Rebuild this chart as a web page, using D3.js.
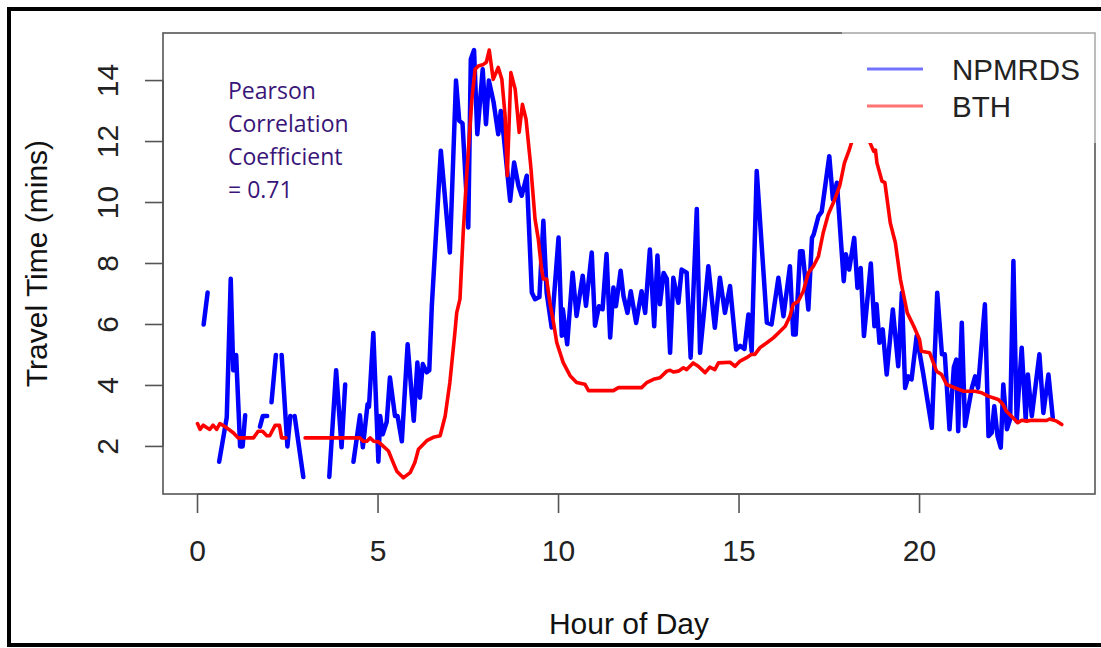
<!DOCTYPE html>
<html>
<head>
<meta charset="utf-8">
<script src="https://cdn.jsdelivr.net/npm/d3@7"></script>
<style>
  body { margin: 0; background: #fff; }
  svg { display: block; }
  .tick-label, .axis-title, .legend-label { font-family: "Liberation Sans", Arial, sans-serif; }
</style>
</head>
<body>
<svg id="chart" width="1101" height="648"></svg>
<script>
// NPMRDS travel time (mins), null = missing interval
var npmHour = [0.17,0.28,0.45,0.60,0.81,0.92,0.99,1.07,1.18,1.25,1.32,1.5,1.73,1.81,1.93,2.0,2.05,2.17,2.25,2.33,2.49,2.57,2.62,2.69,2.93,3.3,
  3.65,3.84,3.99,4.09,4.2,4.32,4.50,4.58,4.71,4.75,4.87,5.01,5.06,5.13,5.24,5.33,5.47,5.54,5.66,5.82,5.99,6.09,6.16,6.24,6.35,6.42,
  6.49,6.74,6.99,7.16,7.25,7.34,7.50,7.57,7.66,7.75,7.90,7.99,8.07,8.2,8.33,8.40,8.48,8.66,8.77,8.89,8.98,9.12,9.26,9.35,9.47,9.58,
  9.67,9.81,10.0,10.09,10.12,10.24,10.39,10.50,10.67,10.76,10.92,11.01,11.12,11.22,11.33,11.43,11.52,11.59,11.72,11.80,11.91,12.0,
  12.15,12.30,12.40,12.53,12.65,12.74,12.81,12.91,13.0,13.09,13.18,13.32,13.41,13.55,13.66,13.83,13.92,14.01,14.15,14.33,14.47,14.61,
  14.75,14.92,15.03,15.15,15.26,15.35,15.49,15.77,15.90,16.09,16.23,16.41,16.50,16.57,16.69,16.76,16.92,17.02,17.07,17.20,17.29,17.50,
  17.60,17.71,17.90,17.96,18.05,18.19,18.28,18.37,18.46,18.65,18.75,18.81,18.89,18.98,19.09,19.26,19.41,19.51,19.60,19.69,19.78,19.92,
  20.1,20.34,20.49,20.62,20.70,20.83,20.95,21.02,21.07,21.17,21.26,21.45,21.54,21.62,21.81,21.91,22.0,22.07,22.16,22.25,22.32,22.42,
  22.51,22.60,22.69,22.83,22.94,23.0,23.11,23.32,23.43,23.57,23.69];
var npmTime = [6.0,7.05,null,1.5,2.95,7.5,4.5,5.0,2.0,2.0,3.02,null,2.65,3.0,3.0,null,3.45,5.0,null,5.0,2.0,3.0,null,3.0,1.0,null,
  1.0,4.5,1.97,4.03,null,1.5,3.02,1.97,3.38,3.3,5.72,1.5,3.0,2.4,2.8,4.26,3.0,3.0,2.17,5.35,2.84,4.75,3.6,4.7,4.43,4.5,
  6.6,11.7,8.36,14.0,12.68,12.6,9.18,14.7,15.0,12.24,14.37,12.57,14.0,13.3,12.24,13.0,12.2,10.06,11.31,10.55,10.22,10.88,7.05,6.83,6.9,9.4,
  7.05,5.9,8.85,5.63,6.5,5.35,7.7,6.28,7.6,6.61,8.36,5.96,6.6,6.5,8.31,5.57,7.21,6.6,7.76,6.93,6.38,7.09,
  6.05,7.09,6.38,8.46,5.94,8.26,6.66,7.69,7.5,5.07,7.53,6.71,7.8,7.7,4.91,9.79,5.07,6.16,7.91,5.89,7.53,6.38,
  7.26,5.18,5.3,5.2,6.33,5.12,11.03,6.06,6.0,7.53,6.27,7.91,5.67,5.67,8.4,8.4,6.49,8.84,8.96,9.55,9.7,11.52,
  10.1,10.65,7.42,8.3,7.8,8.84,7.2,7.85,5.62,8.0,5.94,6.66,5.4,5.84,4.36,6.49,4.63,7.04,3.92,4.3,4.2,5.62,
  4.4,2.61,7.04,5.02,5.02,2.56,4.6,4.85,2.5,6.06,2.67,3.92,4.3,3.92,6.66,2.34,2.45,3.32,2.34,1.96,4.03,2.56,
  2.9,8.08,2.83,5.24,2.89,4.36,3.0,5.02,3.1,4.36,2.94];

// BTH travel time (mins)
var bthHour = [0.0,0.07,0.16,0.25,0.34,0.43,0.53,0.62,0.81,0.99,1.13,1.55,1.68,1.80,1.92,2.0,2.15,2.27,2.33,2.45,2.7,2.98,4.50,4.59,
  4.69,4.78,4.88,5.01,5.15,5.29,5.42,5.52,5.70,5.89,6.02,6.12,6.35,6.53,6.72,6.86,6.99,7.13,7.18,7.27,7.36,7.46,7.60,7.69,7.78,7.92,
  8.0,8.08,8.19,8.33,8.43,8.52,8.58,8.68,8.80,8.91,9.0,9.10,9.23,9.35,9.44,9.53,9.58,9.67,9.76,9.86,9.95,10.13,10.32,10.50,10.73,10.83,
  11.52,11.66,12.30,12.44,12.63,12.81,13.0,13.09,13.18,13.32,13.46,13.55,13.73,13.87,14.06,14.19,14.33,14.43,14.75,14.89,15.03,15.21,
  15.35,15.44,15.58,15.77,15.95,16.14,16.28,16.41,16.50,16.64,16.78,16.92,17.06,17.20,17.33,17.47,17.65,17.79,17.92,18.06,18.2,18.35,
  18.5,18.62,18.73,18.78,18.82,18.96,19.04,19.19,19.33,19.47,19.66,19.84,20.0,20.05,20.28,20.47,20.61,20.75,20.98,21.22,21.54,21.72,
  21.90,22.18,22.31,22.40,22.63,22.72,22.83,22.97,23.1,23.52,23.6,23.80,23.94];
var bthTime = [2.75,2.56,2.70,2.62,2.56,2.7,2.56,2.75,2.61,2.45,2.28,2.28,2.5,2.5,2.35,2.35,2.69,2.69,2.28,2.28,null,2.28,2.28,2.17,
  2.17,2.28,2.17,2.15,2.0,1.85,1.47,1.19,0.97,1.14,1.47,1.91,2.19,2.3,2.35,3.0,4.1,5.74,6.39,6.83,9.02,10.98,13.39,14.37,14.48,14.53,
  14.6,15.0,14.04,14.43,14.04,12.84,10.88,14.26,13.71,12.3,13.22,12.73,11.2,9.45,8.8,7.81,7.49,7.49,6.72,6.07,5.41,4.75,4.32,4.1,4.04,3.83,
  3.83,3.93,3.93,4.09,4.2,4.25,4.47,4.5,4.44,4.47,4.58,4.52,4.74,4.63,4.42,4.6,4.52,4.74,4.76,4.63,4.8,4.91,
  5.02,5.02,5.24,5.4,5.56,5.78,5.94,6.27,6.66,6.76,7.09,7.69,7.91,8.24,9.0,9.61,10.1,10.55,11.3,11.75,12.3,12.6,
  12.4,11.98,11.68,11.72,11.3,10.7,10.65,9.33,8.68,7.48,6.38,5.94,5.51,5.12,5.07,4.47,4.36,4.03,3.92,3.81,3.81,3.76,
  3.65,3.54,3.38,3.16,2.89,2.78,2.86,2.83,2.86,2.85,2.9,2.83,2.72];

var xTicks = [0, 5, 10, 15, 20];
var yTicks = [2, 4, 6, 8, 10, 12, 14];
var seriesNames = ["NPMRDS", "BTH"];
var seriesColors = ["#0000ff", "#ff0000"];
var noteLines = ["Pearson", "Correlation", "Coefficient", "= 0.71"];

var svg = d3.select('#chart');

var box = { left: 163, right: 1095, top: 33, bottom: 494 };

// R style 4% padding on the data range
var x = d3.scaleLinear().domain([-0.956, 24.86]).range([box.left, box.right]);
var y = d3.scaleLinear().domain([0.44, 15.56]).range([box.bottom, box.top]);

// outer frame
svg.append('rect')
  .attr('x', 9).attr('y', 9)
  .attr('width', 1110).attr('height', 636)
  .style('fill', 'none')
  .style('stroke', '#000')
  .style('stroke-width', 4);

var npm = npmHour.map((h, i) => ({ h: h, v: npmTime[i] }));
var bth = bthHour.map((h, i) => ({ h: h, v: bthTime[i] }));

var line = d3.line()
  .defined(d => d.v != null)
  .x(d => x(d.h))
  .y(d => y(d.v));

svg.append('path')
  .datum(npm)
  .attr('d', line)
  .style('fill', 'none')
  .style('stroke', seriesColors[0])
  .style('stroke-width', 4.5)
  .style('stroke-linejoin', 'round')
  .style('stroke-linecap', 'round');

svg.append('path')
  .datum(bth)
  .attr('d', line)
  .style('fill', 'none')
  .style('stroke', seriesColors[1])
  .style('stroke-width', 3.6)
  .style('stroke-linejoin', 'round')
  .style('stroke-linecap', 'round');

// legend background hides the lines underneath
var legBox = { x: 842, y: box.top - 1, w: box.right - 842 + 2, h: 143 - box.top + 1 };
svg.append('rect')
  .attr('x', legBox.x).attr('y', legBox.y)
  .attr('width', legBox.w).attr('height', legBox.h)
  .style('fill', '#fff');

// plot box
svg.append('rect')
  .attr('x', box.left).attr('y', box.top)
  .attr('width', box.right - box.left).attr('height', box.bottom - box.top)
  .style('fill', 'none')
  .style('stroke', '#555')
  .style('stroke-width', 1.6);

svg.append('rect')
  .attr('x', legBox.x).attr('y', legBox.y)
  .attr('width', legBox.w).attr('height', legBox.h)
  .style('fill', '#fff')
  .style('fill-opacity', 0.5);

// axes
var xAxis = svg.append('g');
xAxis.append('line')
  .attr('x1', x(xTicks[0])).attr('x2', x(xTicks[xTicks.length - 1]))
  .attr('y1', box.bottom).attr('y2', box.bottom)
  .style('stroke', '#555').style('stroke-width', 1.6);
xAxis.selectAll('line.tick')
  .data(xTicks)
  .enter()
  .append('line')
  .classed('tick', true)
  .attr('x1', d => x(d)).attr('x2', d => x(d))
  .attr('y1', box.bottom).attr('y2', box.bottom + 19)
  .style('stroke', '#555').style('stroke-width', 1.6);
xAxis.selectAll('text')
  .data(xTicks)
  .enter()
  .append('text')
  .attr('class', 'tick-label')
  .attr('x', d => x(d))
  .attr('y', 561)
  .attr('text-anchor', 'middle')
  .style('font-size', '30px')
  .style('fill', '#222')
  .text(d => d);

var yAxis = svg.append('g');
yAxis.append('line')
  .attr('x1', box.left).attr('x2', box.left)
  .attr('y1', y(yTicks[0])).attr('y2', y(yTicks[yTicks.length - 1]))
  .style('stroke', '#555').style('stroke-width', 1.6);
yAxis.selectAll('line.tick')
  .data(yTicks)
  .enter()
  .append('line')
  .classed('tick', true)
  .attr('x1', box.left - 18).attr('x2', box.left)
  .attr('y1', d => y(d)).attr('y2', d => y(d))
  .style('stroke', '#555').style('stroke-width', 1.6);
yAxis.selectAll('text')
  .data(yTicks)
  .enter()
  .append('text')
  .attr('class', 'tick-label')
  .attr('transform', d => 'translate(' + [118, y(d)] + ') rotate(-90)')
  .attr('text-anchor', 'middle')
  .style('font-size', '30px')
  .style('fill', '#222')
  .text(d => d);

// axis titles
svg.append('text')
  .attr('class', 'axis-title')
  .attr('x', (box.left + box.right) / 2)
  .attr('y', 634)
  .attr('text-anchor', 'middle')
  .style('font-size', '30px')
  .style('fill', '#111')
  .text('Hour of Day');

svg.append('text')
  .attr('class', 'axis-title')
  .attr('transform', 'translate(' + [47, (box.top + box.bottom) / 2] + ') rotate(-90)')
  .attr('text-anchor', 'middle')
  .style('font-size', '30px')
  .style('fill', '#111')
  .text('Travel Time (mins)');

// legend
var legend = svg.append('g')
  .selectAll('g')
  .data(seriesNames)
  .enter()
  .append('g')
  .attr('transform', (d, i) => 'translate(0,' + (69 + i * 37) + ')');

legend.append('line')
  .attr('x1', 867).attr('x2', 923)
  .attr('y1', 0).attr('y2', 0)
  .style('stroke', (d, i) => seriesColors[i])
  .style('stroke-opacity', 0.55)
  .style('stroke-width', 3);

legend.append('text')
  .attr('class', 'legend-label')
  .attr('x', 952)
  .attr('y', 11)
  .style('font-size', '29.5px')
  .style('fill', '#222')
  .text(d => d);

// correlation note
svg.append('g')
  .selectAll('text')
  .data(noteLines)
  .enter()
  .append('text')
  .attr('x', 228)
  .attr('y', (d, i) => 99 + i * 33)
  .style('font-family', '"Open Sans", "Noto Sans", sans-serif')
  .style('font-size', '23px')
  .style('fill', '#3a1578')
  .text(d => d);
</script>
</body>
</html>
